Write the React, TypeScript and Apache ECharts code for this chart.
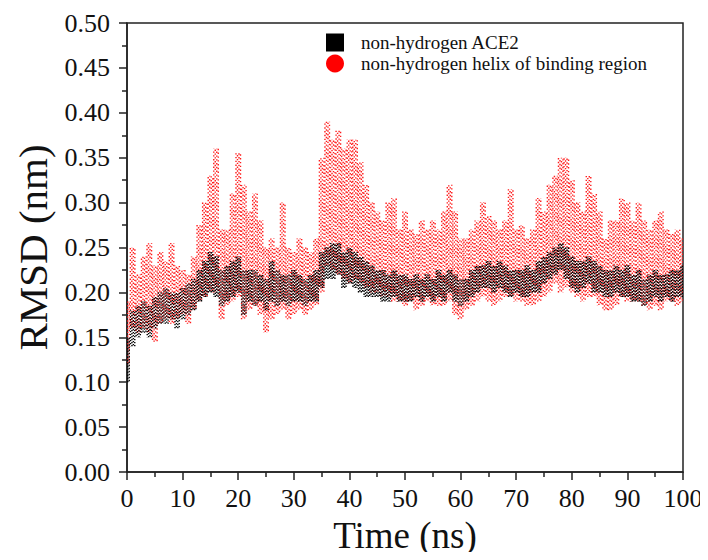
import React, { useEffect, useRef } from "react";
import * as echarts from "echarts";

// RMSD (nm) envelopes, one value per ns (t = 0..100)
const ace2Low = [
  0.10, 0.14, 0.15, 0.155, 0.15, 0.16, 0.165, 0.165, 0.17, 0.16,
  0.17, 0.175, 0.18, 0.19, 0.195, 0.20, 0.195, 0.185, 0.19, 0.195,
  0.20, 0.175, 0.19, 0.185, 0.19, 0.18, 0.19, 0.185, 0.19, 0.185,
  0.19, 0.19, 0.185, 0.19, 0.19, 0.205, 0.215, 0.215, 0.22, 0.205,
  0.21, 0.205, 0.20, 0.195, 0.195, 0.195, 0.19, 0.19, 0.195, 0.19,
  0.19, 0.19, 0.195, 0.19, 0.195, 0.19, 0.195, 0.19, 0.20, 0.19,
  0.185, 0.19, 0.195, 0.20, 0.205, 0.205, 0.20, 0.205, 0.20, 0.195,
  0.20, 0.195, 0.195, 0.20, 0.20, 0.21, 0.215, 0.22, 0.225, 0.215,
  0.205, 0.20, 0.205, 0.21, 0.20, 0.20, 0.195, 0.195, 0.20, 0.195,
  0.195, 0.19, 0.19, 0.185, 0.19, 0.195, 0.19, 0.195, 0.19, 0.195,
  0.195,
];
const ace2High = [
  0.15, 0.18, 0.185, 0.19, 0.185, 0.195, 0.20, 0.205, 0.20, 0.20,
  0.205, 0.21, 0.215, 0.225, 0.235, 0.245, 0.24, 0.225, 0.23, 0.235,
  0.24, 0.225, 0.225, 0.225, 0.22, 0.215, 0.235, 0.225, 0.22, 0.22,
  0.225, 0.22, 0.215, 0.22, 0.225, 0.245, 0.25, 0.255, 0.255, 0.245,
  0.25, 0.245, 0.24, 0.235, 0.23, 0.225, 0.225, 0.22, 0.225, 0.22,
  0.22, 0.215, 0.22, 0.215, 0.22, 0.215, 0.225, 0.22, 0.225, 0.22,
  0.215, 0.215, 0.225, 0.23, 0.23, 0.235, 0.23, 0.235, 0.23, 0.225,
  0.225, 0.225, 0.23, 0.225, 0.235, 0.24, 0.245, 0.25, 0.255, 0.25,
  0.24, 0.235, 0.235, 0.24, 0.235, 0.23, 0.225, 0.225, 0.23, 0.225,
  0.23, 0.22, 0.225, 0.215, 0.22, 0.225, 0.22, 0.22, 0.225, 0.225,
  0.23,
];
const helixLow = [
  0.12, 0.16, 0.155, 0.16, 0.155, 0.145, 0.165, 0.17, 0.165, 0.17,
  0.175, 0.165, 0.18, 0.19, 0.195, 0.20, 0.20, 0.17, 0.185, 0.19,
  0.195, 0.17, 0.18, 0.185, 0.175, 0.155, 0.17, 0.175, 0.18, 0.17,
  0.175, 0.18, 0.175, 0.18, 0.185, 0.20, 0.23, 0.225, 0.22, 0.215,
  0.21, 0.215, 0.21, 0.205, 0.20, 0.20, 0.195, 0.195, 0.19, 0.19,
  0.185, 0.19, 0.18, 0.185, 0.19, 0.185, 0.185, 0.185, 0.19, 0.175,
  0.17, 0.18, 0.185, 0.19, 0.195, 0.19, 0.185, 0.19, 0.195, 0.195,
  0.19, 0.19, 0.185, 0.185, 0.19, 0.195, 0.20, 0.21, 0.20, 0.205,
  0.20, 0.195, 0.19, 0.195, 0.195, 0.185, 0.18, 0.18, 0.185, 0.195,
  0.19, 0.19, 0.19, 0.185, 0.18, 0.185, 0.18, 0.19, 0.19, 0.185,
  0.19,
];
const helixHigh = [
  0.19, 0.25, 0.22, 0.24, 0.255, 0.23, 0.245, 0.235, 0.255, 0.23,
  0.225, 0.22, 0.24, 0.275, 0.30, 0.33, 0.36, 0.27, 0.27, 0.31,
  0.355, 0.32, 0.29, 0.31, 0.28, 0.25, 0.26, 0.25, 0.30, 0.25,
  0.245, 0.26, 0.25, 0.245, 0.26, 0.35, 0.39, 0.37, 0.38, 0.36,
  0.37, 0.37, 0.345, 0.32, 0.30, 0.29, 0.28, 0.30, 0.305, 0.27,
  0.29, 0.27, 0.265, 0.28, 0.27, 0.28, 0.27, 0.29, 0.32, 0.29,
  0.26, 0.26, 0.27, 0.28, 0.30, 0.285, 0.28, 0.27, 0.28, 0.315,
  0.27, 0.275, 0.26, 0.27, 0.305, 0.29, 0.32, 0.33, 0.35, 0.35,
  0.325, 0.30, 0.29, 0.33, 0.31, 0.29, 0.26, 0.28, 0.28, 0.305,
  0.30, 0.28, 0.30, 0.28, 0.27, 0.28, 0.29, 0.27, 0.265, 0.27,
  0.26,
];

const seriesNames = ["non-hydrogen ACE2", "non-hydrogen helix of binding region"];
const yTicks = [0, 0.5, 0.05];
const xTicks = [0, 100, 10];

const FONT = "'Times New Roman', 'Liberation Serif', serif";

function makeRender(color: string, offsets: number[], dash: number[]) {
  return (params: any, api: any) => {
    const t = api.value(0);
    const lo = api.value(1);
    const hi = api.value(2);
    const p1 = api.coord([t, lo]);
    const p2 = api.coord([t, hi]);
    return {
      type: "group",
      children: offsets.map((dx, i) => ({
        type: "line",
        shape: { x1: p1[0] + dx, y1: p1[1], x2: p2[0] + dx, y2: p2[1] },
        style: {
          stroke: color,
          lineWidth: 1.4,
          lineDash: dash,
          lineDashOffset: i * 1.7 + (params.dataIndex % 3) * 1.1,
        },
      })),
    };
  };
}

export default function App() {
  const ref = useRef<HTMLDivElement>(null);
  useEffect(() => {
    if (!ref.current) return;
    const chart = echarts.init(ref.current, null, { renderer: "svg" });
    const ace2Data = ace2Low.map((v, i) => [i, v, ace2High[i]]);
    const helixData = helixLow.map((v, i) => [i, v, helixHigh[i]]);
    chart.setOption({
      animation: false,
      backgroundColor: "#ffffff",
      grid: {
        left: 127,
        right: 25,
        top: 23,
        bottom: 88,
        show: true,
        borderColor: "#222",
        borderWidth: 1.5,
      },
      legend: {
        orient: "vertical",
        left: 321,
        top: 28,
        itemWidth: 18,
        itemHeight: 18,
        itemGap: 2,
        textStyle: {
          fontFamily: FONT,
          fontSize: 19,
          color: "#111",
          padding: [0, 0, 0, 12],
        },
        data: [
          { name: seriesNames[0], icon: "rect" },
          { name: seriesNames[1], icon: "circle" },
        ],
      },
      xAxis: {
        type: "value",
        min: xTicks[0],
        max: xTicks[1],
        interval: xTicks[2],
        name: "Time (ns)",
        nameLocation: "middle",
        nameGap: 45,
        nameTextStyle: { fontFamily: FONT, fontSize: 37, color: "#111" },
        axisLine: { lineStyle: { color: "#222", width: 1.5 } },
        axisTick: { length: 8, lineStyle: { color: "#222", width: 1.5 } },
        minorTick: { show: true, splitNumber: 2, length: 5, lineStyle: { color: "#222", width: 1.5 } },
        axisLabel: { fontFamily: FONT, fontSize: 26, color: "#111", margin: 13 },
        splitLine: { show: false },
      },
      yAxis: {
        type: "value",
        min: yTicks[0],
        max: yTicks[1],
        interval: yTicks[2],
        name: "RMSD (nm)",
        nameLocation: "middle",
        nameGap: 66,
        nameTextStyle: { fontFamily: FONT, fontSize: 41, color: "#111" },
        axisLine: { show: true, lineStyle: { color: "#222", width: 1.5 } },
        axisTick: { show: true, length: 8, lineStyle: { color: "#222", width: 1.5 } },
        minorTick: { show: true, splitNumber: 2, length: 5, lineStyle: { color: "#222", width: 1.5 } },
        axisLabel: {
          fontFamily: FONT,
          fontSize: 26,
          color: "#111",
          margin: 17,
          formatter: (v: number) => v.toFixed(2),
        },
        splitLine: { show: false },
      },
      series: [
        {
          name: seriesNames[1],
          type: "custom",
          color: "#ff0000",
          clip: true,
          encode: { x: 0, y: [1, 2] },
          renderItem: makeRender("#ff1a1a", [-2.2, -0.7, 0.8, 2.3], [1.4, 2.4]),
          data: helixData,
          z: 2,
        },
        {
          name: seriesNames[0],
          type: "custom",
          color: "#000000",
          clip: true,
          encode: { x: 0, y: [1, 2] },
          renderItem: makeRender("#000000", [-2.0, -0.6, 0.8, 2.2], [1.4, 1.6]),
          data: ace2Data,
          z: 3,
        },
      ],
    });
    return () => chart.dispose();
  }, []);
  return <div ref={ref} style={{ width: 708, height: 560, margin: -8 }} />;
}
